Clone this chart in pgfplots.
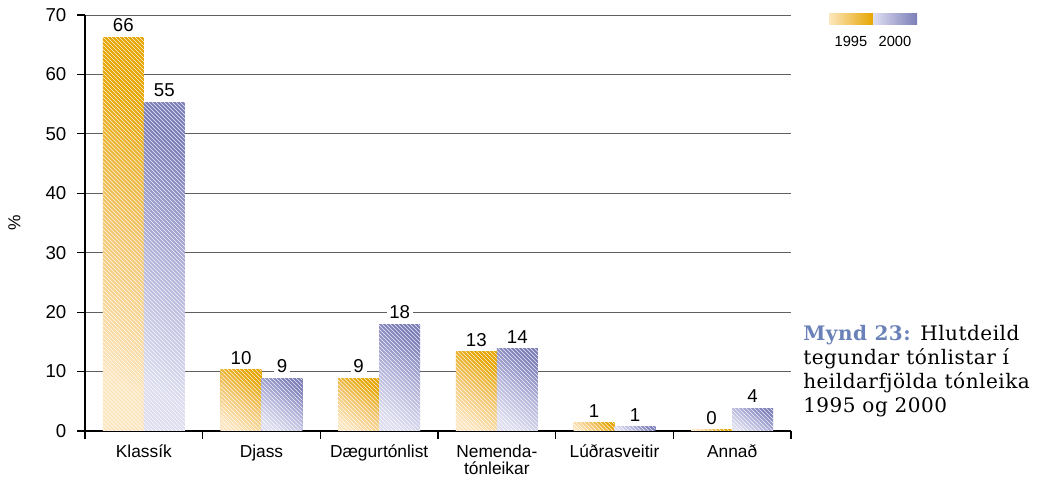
\documentclass[border=0pt]{standalone}
\usepackage{fontspec}
\setmainfont{Liberation Sans}
\newfontfamily\capfont[LetterSpace=2.5]{DejaVu Serif}
\usepackage{pgfplots}
\pgfplotsset{compat=1.18}
\usetikzlibrary{patterns}

\definecolor{orD}{HTML}{E6A500}
\definecolor{orM}{HTML}{F2C66E}
\definecolor{orL}{HTML}{FCE6BE}
\definecolor{blD}{HTML}{7C7EB8}
\definecolor{blM}{HTML}{B3B4DA}
\definecolor{blL}{HTML}{DEDEF1}
\definecolor{capblue}{HTML}{6A82B8}
\definecolor{gridgray}{HTML}{606060}

% one plot per bar, so that every bar gets its own shading
\pgfplotsset{
  hatch/.style={postaction={pattern=north west lines, pattern color=white, fill opacity=0.16}},
  y95/.style={ybar, bar width=0.348, bar shift=-0.174, draw=none,
    top color=orD, bottom color=orL, middle color=orM, shading angle=-35, hatch,
    nodes near coords, point meta=explicit symbolic,
    every node near coord/.append style={xshift=-15.36pt}},
  y00/.style={ybar, bar width=0.348, bar shift=0.174, draw=none,
    top color=blD, bottom color=blL, middle color=blM, shading angle=-35, hatch,
    nodes near coords, point meta=explicit symbolic,
    every node near coord/.append style={xshift=15.36pt}},
}

\begin{document}
\begin{tikzpicture}
\useasboundingbox (-63.75pt,-35.25pt) rectangle (724.5pt,323.25pt);
\begin{axis}[
  at={(0,0)}, anchor=south west,
  scale only axis, width=529.5pt, height=312pt,
  xmin=-0.5, xmax=5.5, ymin=0, ymax=70,
  axis x line*=bottom, axis y line*=left,
  x axis line style={black, line width=1.1pt},
  y axis line style={black, line width=0.8pt},
  ytick={0,10,...,70},
  yticklabel style={font=\fontsize{14}{16}\selectfont, xshift=-4.5pt},
  ymajorgrids, grid style={gridgray, line width=0.6pt},
  xtick={-0.5,0.5,...,5.5}, xticklabels={},
  extra x ticks={0,1,2,3,4,5},
  extra x tick labels={Klassík, Djass, Dægurtónlist, {Nemenda-\\tónleikar}, Lúðrasveitir, Annað},
  extra x tick style={major tick length=0pt,
    xticklabel style={align=center, yshift=-7pt, font=\fontsize{13}{12.5}\selectfont}},
  tick align=outside, major tick length=6pt,
  tick style={black, line width=0.8pt},
  /pgf/number format/assume math mode=true,
  ylabel={\%}, ylabel style={at={(axis description cs:-0.1,0.5)}, anchor=center, font=\fontsize{13}{15}\selectfont},
  every node near coord/.append style={font=\fontsize{14}{16}\selectfont, text=black,
    fill=white, inner xsep=2pt, inner ysep=1pt, yshift=3pt},
]
% 1995
\addplot[y95] coordinates {(0,66.2) [66]};
\addplot[y95] coordinates {(1,10.3) [10]};
\addplot[y95] coordinates {(2,8.8) [9]};
\addplot[y95] coordinates {(3,13.3) [13]};
\addplot[y95] coordinates {(4,1.4) [1]};
\addplot[y95] coordinates {(5,0.2) [0]};
% 2000
\addplot[y00] coordinates {(0,55.3) [55]};
\addplot[y00] coordinates {(1,8.9) [9]};
\addplot[y00] coordinates {(2,17.9) [18]};
\addplot[y00] coordinates {(3,13.8) [14]};
\addplot[y00] coordinates {(4,0.7) [1]};
\addplot[y00] coordinates {(5,3.8) [4]};
\end{axis}
% legend
\shade[left color=orL, right color=orD] (558pt,304.5pt) rectangle (591pt,312.75pt);
\shade[left color=blL, right color=blD] (591pt,304.5pt) rectangle (624pt,312.75pt);
\node[font=\fontsize{11}{13}\selectfont] at (574.5pt,292.5pt) {1995};
\node[font=\fontsize{11}{13}\selectfont] at (607.5pt,292.5pt) {2000};
% caption
\node[anchor=north west, inner sep=0pt, align=left, font=\capfont\fontsize{15}{18}\selectfont]
  at (538.5pt,79.5pt)
  {\textcolor{capblue}{\textbf{Mynd 23:}} Hlutdeild\\tegundar tónlistar í\\heildarfjölda tónleika\\1995 og 2000};
\end{tikzpicture}
\end{document}
